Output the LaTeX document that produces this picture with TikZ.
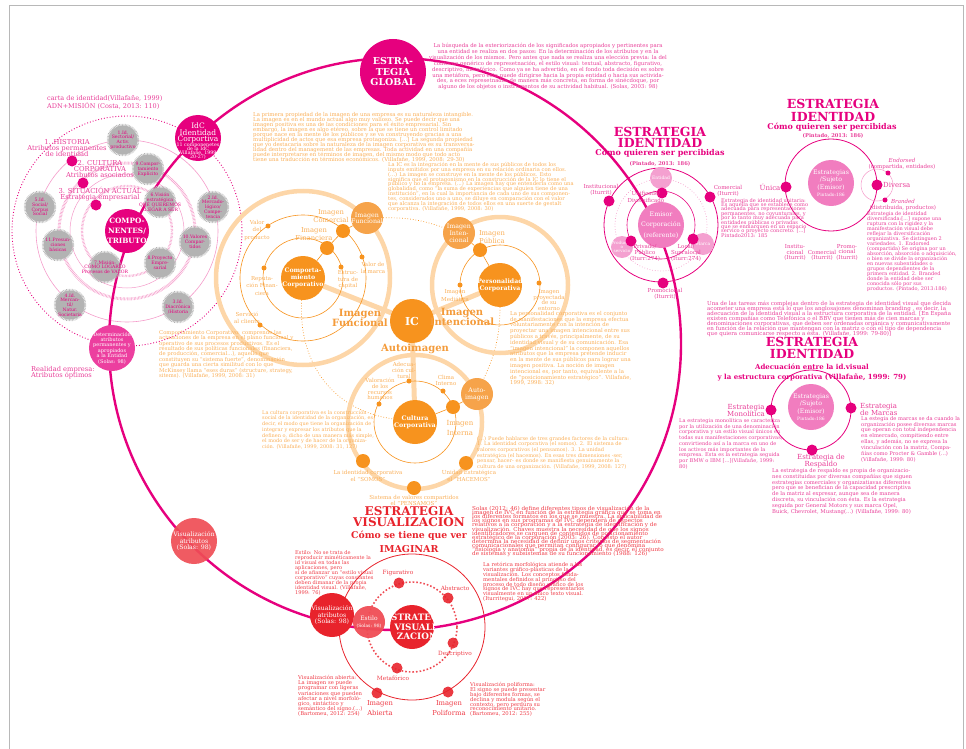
\documentclass[tikz,border=0pt]{standalone}
\usepackage{fontspec}
\setmainfont{DejaVu Serif}
\pgfdeclarelayer{bg}
\pgfsetlayers{bg,main}
\definecolor{Mag}{HTML}{E6007E}
\definecolor{MagT}{HTML}{E83E98}
\definecolor{MagM}{HTML}{EC3F9F}
\definecolor{PinkL}{HTML}{F17DBF}
\definecolor{PinkXL}{HTML}{F4A0D0}
\definecolor{PinkLine}{HTML}{F49AC9}
\definecolor{Org}{HTML}{F7931E}
\definecolor{OrgM}{HTML}{F6A34A}
\definecolor{OrgL}{HTML}{FDD6A8}
\definecolor{OrgT}{HTML}{F9AE57}
\definecolor{OrgB}{HTML}{F49B3A}
\definecolor{Red}{HTML}{E8232C}
\definecolor{RedL}{HTML}{EF4D55}
\definecolor{RedT}{HTML}{EE3B46}
\definecolor{Sun}{HTML}{B3B3B3}
\definecolor{Frame}{HTML}{B8B8B8}
\newcommand\myfs[2]{\fontsize{#1}{#2}\selectfont\lineskiplimit=-20pt\relax}
\newcommand\Blk[9]{\begin{scope}[shift={(#1,#2)},xscale=#3]\node[transform shape,anchor=north west,inner sep=0pt,align=#8,text=#6,font={\myfs{#4}{#5}}] (#7) at (0,0) {#9};\end{scope}}
\newcommand\Disc[6]{\node[circle,inner sep=0pt,minimum size=#4pt,#1] (#2) at (#3) {};\node[ctxt,#5] (#2-t) at (#2.center) {#6};}
\newcommand\Sun[3]{\node[sun] (#1) at (#2) {};\node[ctxt,text=Mag,font={\myfs{4.6}{4.8}}] (#1-t) at (#1.center) {#3};}
\tikzset{
  ctxt/.style={inner sep=0pt, align=center},
  mdot/.style={circle, fill=Mag, inner sep=0pt, minimum size=11pt},
  sdot/.style={circle, fill=Mag, inner sep=0pt, minimum size=5pt},
  rdot/.style={circle, fill=Red, opacity=0.9, inner sep=0pt, minimum size=11pt},
  sun/.style={circle, fill=Sun, draw=Sun, line width=3.5pt, dash pattern=on 0.55pt off 0.8pt, minimum size=29pt, inner sep=0pt},
  ladder/.style={PinkLine, line width=3pt, dash pattern=on 0.5pt off 0.9pt},
  orng/.style={OrgL, line width=4.5pt},
  othin/.style={Org, line width=0.6pt},
  odotted/.style={Org, line width=0.7pt, dotted},
  odot/.style={circle, fill=Org, inner sep=0pt, minimum size=5pt},
  osm/.style={circle, fill=Org, inner sep=0pt, minimum size=14pt},
  olbl/.style={ctxt, text=OrgT, font={\myfs{5.5}{7.5}}},
  ohead/.style={ctxt, text=OrgB, font={\bfseries\myfs{10}{9.5}}},
  mlbl/.style={ctxt, text=MagT, font={\myfs{5.5}{5.5}}},
  rlbl/.style={ctxt, text=RedT, font={\myfs{5.8}{6}}},
  mhead/.style={ctxt, text=Mag, font={\bfseries\myfs{12.5}{11}}},
}
\begin{document}
\begin{tikzpicture}[x=1pt,y=-1pt]
\useasboundingbox (0,0) rectangle (966,749);
\draw[Frame, line width=1pt] (9,749) -- (9,6) -- (963,6) -- (963,749);

% ---------------- left cluster rings
\draw[Mag, line width=0.9pt, dotted] (127,231) circle[radius=115pt];
\draw[PinkLine, line width=0.6pt] (127,231) circle[radius=91pt];
\draw[ladder] (127,231) circle[radius=68pt];
\draw[PinkLine, line width=0.5pt] (127,231) circle[radius=57pt];
\draw[ladder, line width=2.4pt] (127,231) circle[radius=45pt];

% ---------------- orange rings
\draw[orng] (303,278) circle[radius=87pt];
\draw[orng] (500,285) circle[radius=68pt];
\draw[orng] (415,422) circle[radius=67pt];
\draw[othin] (303,278) circle[radius=63pt];
\draw[othin] (303,278) circle[radius=40pt];
\draw[othin] (500,285) circle[radius=40pt];
\draw[othin] (415,422) circle[radius=41pt];

% ---------------- pink identity rings
\draw[Mag, line width=0.8pt] (661,225) circle[radius=57pt];
\draw[PinkLine, line width=0.7pt, dotted] (661,225) circle[radius=46pt];
\draw[Mag, line width=0.6pt] (661,225) circle[radius=34pt];
\draw[Mag, line width=0.8pt] (831,185) circle[radius=46pt];
\draw[PinkLine, line width=0.5pt] (877,185) circle[radius=16pt];
\draw[Mag, line width=0.8pt] (811,410) circle[radius=40pt];

% ---------------- red rings
\draw[Red, line width=0.8pt] (412,627) circle[radius=73pt];
\draw[RedL, line width=1.6pt, dotted] (412,627) circle[radius=45pt];

% ---------------- big ring
\draw[Mag, line width=2.4pt] (395,344) circle[radius=286pt];

% ---------------- left cluster nodes
\Sun{s1}{123,140}{1.Id.\\Sectorial/\\Activ.\\productivo}
\Sun{s9}{148,169}{9.Compor-\\tamiento\\Explícito}
\Sun{s6}{160,202}{6.Visión\\estratégica\\QUÉ QUEREMOS\\LLEGAR A SER}
\Sun{s2}{213,207}{2.Id.\\Mercado-\\lógico/\\Compe-\\tencia}
\Sun{s5}{40,207}{5.Id.\\Social/\\Corpus\\Social}
\Sun{s11}{58,245}{11.Presun-\\ciones\\básicas}
\Sun{s10}{195,242}{10.Valores\\Compar-\\tidos}
\Sun{s8}{160,263}{8.Proyecto\\Empre-\\sarial}
\Sun{s7}{105,267}{7.Misión:\\CÓMO LOGARLO\\Procesos de VALOR}
\Sun{s4}{70,305}{4.Id.\\Mercan-\\til/\\Natur.\\Societaria}
\Sun{s3}{178,307}{3.Id.\\Diacrónica\\/Historia}

\node[mdot] (d1) at (72,161) {};
\node[mdot] (d2) at (83,183) {};
\node[mdot] (d3) at (96,205) {};
\node[ctxt, text=MagT, font={\myfs{6.8}{5.8}}] (l1) at (67,148) {1. HISTORIA\\Atributos permanentes\\de identidad};
\node[ctxt, text=MagT, font={\myfs{6.8}{5.8}}] (l2) at (100,169) {2. CULTURA\\CORPORATIVA\\Atributos asociados};
\node[ctxt, text=MagT, font={\myfs{6.8}{6.5}}] (l3) at (100,194) {3. SITUACIÓN ACTUAL\\Estrategia empresarial};
\node[anchor=north west, inner sep=0pt, align=left, text=MagT, font={\myfs{6.5}{8}}] (carta) at (47,95) {carta de identidad(Villafañe, 1999)\\ADN+MISIÓN (Costa, 2013: 110)};
\node[anchor=north west, inner sep=0pt, align=left, text=MagT, font={\myfs{6.7}{6}}] (realidad) at (31,366) {Realidad empresa:\\Atributos óptimos};

\Disc{fill=Mag}{comp}{127,231}{44}{text=white,font={\bfseries\myfs{7.3}{10}}}{COMPO-\\NENTES/\\ATRIBUTOS}
\node[circle, fill=Mag, inner sep=0pt, minimum size=46pt] (idc) at (198,138) {};
\node[ctxt, text=white, font={\myfs{7.5}{6.5}}] (idct) at (198,133) {IdC\\Identidad\\Corportiva};
\node[ctxt, text=white, font={\myfs{4.8}{4.2}}] (idcs) at (198,151) {11 componenetes\\de la IdC\\(Villafañe, 1999:\\20-27)};
\Disc{fill=MagM}{determ}{112,348}{46}{text=white,font={\myfs{5}{5.4}}}{Determinación\\atributos\\permanentes y\\apropiados\\a la Entidad\\(Solas: 98)}
\Disc{fill=Mag}{eglobal}{393,72}{66}{text=white,font={\bfseries\myfs{9.5}{10.5}}}{ESTRA-\\TEGIA\\GLOBAL}

% ---------------- orange nodes
\Disc{fill=Org}{ic}{412,321}{44}{text=white,font={\bfseries\myfs{11}{11}}}{IC}
\Disc{fill=Org}{compc}{303,278}{44}{text=white,font={\bfseries\myfs{6.2}{7}}}{Comporta-\\miento\\Corporativo}
\Disc{fill=Org}{pers}{500,285}{44}{text=white,font={\bfseries\myfs{6.2}{6.7}}}{Personalidad\\Corporativa}
\Disc{fill=Org}{cult}{415,422}{44}{text=white,font={\bfseries\myfs{6.3}{7}}}{Cultura\\Corporativa}
\Disc{fill=OrgM}{ifun}{367,218}{32}{text=white,font={\myfs{6.3}{6.5}}}{Imagen\\Funcional}
\Disc{fill=OrgM}{iint}{459,233}{32}{text=white,font={\myfs{6.3}{7}}}{Imagen\\Inten-\\cional}
\Disc{fill=OrgM}{auto}{477,394}{32}{text=white,font={\myfs{6.3}{7}}}{Auto-\\imagen}
\node[osm] (icom) at (343,231) {};
\node[osm] (ifin) at (327,248) {};
\node[osm] (ipub) at (480,250) {};
\node[osm] (iinterna) at (453,407) {};
\node[osm] (somos) at (363,461) {};
\node[osm] (pensamos) at (414,488) {};
\node[osm] (hacemos) at (466,463) {};
\node[odot] (vprod) at (268,226) {};
\node[odot] (vmarca) at (362,257) {};
\node[odot] (serv) at (260,325) {};
\node[odot] (repu) at (264,268) {};
\node[odot] (estr) at (341,267) {};
\node[odot] (imed) at (460,285) {};
\node[odot] (iproy) at (539,283) {};
\node[odot] (adec) at (409,381) {};
\node[odot] (clima) at (443,391) {};
\node[odot] (valo) at (379,404) {};

\begin{pgfonlayer}{bg}
\draw[OrgL, line width=5pt] (ic) -- (compc);
\draw[OrgL, line width=5pt] (ic) -- (pers);
\draw[OrgL, line width=5pt] (ic) -- (cult);
\draw[othin] (compc) -- (ifin) -- (icom) -- (ifun);
\draw[othin] (pers) -- (ipub) -- (iint);
\draw[othin] (cult) -- (iinterna) -- (auto);
\draw[odotted] (ifun) to[bend left=10] (iint);
\draw[odotted] (pers) to[bend left=12] (auto);
\draw[odotted] (compc) .. controls (298,360) and (330,410) .. (cult);
\end{pgfonlayer}

\node[olbl] (lvprod) at (257,230) {Valor\\del\\producto};
\node[olbl] (lvmarca) at (373,268) {Valor de\\la marca};
\node[olbl, font={\myfs{5.5}{6.5}}] (lestr) at (348,280) {Estruc-\\tura de\\capital};
\node[olbl] (lrepu) at (262,286) {Reputa-\\ción Finan-\\ciera};
\node[olbl] (lserv) at (247,318) {Servició\\al cliente};
\node[ctxt, text=OrgT, font={\myfs{6.8}{8.5}}] (licom) at (331,216) {Imagen\\Comercial};
\node[ctxt, text=OrgT, font={\myfs{6.8}{7.5}}] (lifin) at (314,234) {Imagen\\Financiera};
\node[ohead] (lfun) at (360,318) {Imagen\\Funcional};
\node[ohead] (lint) at (462,317) {Imagen\\Intencional};
\node[ohead] (lauto) at (415,349) {Autoimagen};
\node[ctxt, text=OrgT, font={\myfs{6.8}{8}}] (lipub) at (492,237) {Imagen\\Pública};
\node[olbl, font={\myfs{5.5}{8}}] (limed) at (455,296) {Imagen\\Mediática};
\node[olbl, font={\myfs{5.5}{5.8}}] (liproy) at (549,300) {Imagen\\proyectada\\de su\\entorno};
\node[olbl, font={\myfs{5.5}{6}}] (ladec) at (404,370) {Adecua-\\ción cul-\\tural};
\node[olbl, font={\myfs{5.5}{6}}] (lclima) at (446,380) {Clima\\Interno};
\node[olbl, font={\myfs{5.5}{5.8}}] (lvalo) at (380,389) {Valoración\\de los\\recursos\\humanos};
\node[ctxt, text=OrgT, font={\myfs{7}{9.5}}] (liint) at (460,428) {Imagen\\Interna};
\node[olbl, font={\myfs{5.5}{7}}] (lsomos) at (368,476) {La identidad corporativa\\el “SOMOS”};
\node[olbl, font={\myfs{5.5}{6.5}}] (lhacemos) at (469,476) {Unidad Estratégica\\el “HACEMOS”};
\node[olbl, font={\myfs{5.5}{6}}] (lpensamos) at (414,500) {Sistema de valores compartidos\\el “PENSAMOS”};

% ---------------- pink identity 1
\Disc{fill=PinkL}{emisor}{661,225}{46}{text=white,font={\myfs{6.3}{10.5}}}{Emisor\\Corporación\\(referente)}
\Disc{fill=PinkXL}{entidad}{661,178}{22}{text=white,font={\myfs{4.5}{5}}}{Entidad}
\Disc{fill=PinkXL}{prodserv}{622,247}{22}{text=white,font={\myfs{4.2}{4.4}}}{Productos\\o\\servicio}
\Disc{fill=PinkXL}{marca}{703,244}{22}{text=white,font={\myfs{4.5}{5}}}{Marca}
\node[mdot] (dinst) at (609,201) {};
\node[mdot] (dcom) at (710,197) {};
\node[mdot] (dunif) at (662,193) {};
\node[mdot] (dpriv) at (631,241) {};
\node[mdot] (dlocal) at (693,239) {};
\node[mdot] (dpromo) at (663,283) {};
\node[mlbl] (linst) at (601,190) {Institucional\\(Iturrit)};
\node[mlbl] (lcom) at (728,191) {Comercial\\(Iturrit)};
\node[mlbl, font={\myfs{5.5}{6.5}}] (lunif) at (646,197) {Unificado/\\Diversificado};
\node[mlbl, font={\myfs{5.5}{6}}] (lpriv) at (645,253) {Privado/\\Público\\(Iturr:274)};
\node[mlbl, font={\myfs{5.5}{6}}] (llocal) at (686,253) {Local/\\Supralocal\\(Iturr:274)};
\node[mlbl] (lpromo) at (665,294) {Promocional\\(Iturrit)};
\node[mhead] (h1) at (660,137.5) {ESTRATEGIA\\IDENTIDAD};
\node[ctxt, text=Mag, font={\bfseries\myfs{8}{8}}] (h1b) at (660,153) {Cómo quieren ser percibidas};
\node[ctxt, text=MagT, font={\bfseries\myfs{5.2}{5}}] (h1c) at (660,164) {(Pintado, 2013: 186)};
\node[mlbl, font={\myfs{5.5}{5.5}}] (linst2) at (795,252.5) {Institu-\\cional\\(Iturrit)};
\node[mlbl, font={\myfs{5.5}{5.5}}] (lcom2) at (822,255.5) {Comercial\\(Iturrit)};
\node[mlbl, font={\myfs{5.5}{5.5}}] (lpromo2) at (847,252) {Promo-\\cional\\(Iturrit)};

% ---------------- pink identity 2
\Disc{fill=PinkL}{est2}{831,183}{46}{text=white,font={\myfs{6.2}{7.5}}}{Estrategias\\/Sujeto\\(Emisor)\\{\myfs{4.5}{7.5}Pintado:186}}
\node[mdot] (duni) at (786,187) {};
\node[mdot] (ddiv) at (877,185) {};
\node[sdot] (dend) at (888,173) {};
\node[sdot] (dbra) at (885,200) {};
\node[ctxt, text=MagT, font={\myfs{7}{7}}] (luni) at (770,187) {Única};
\node[anchor=west, inner sep=0pt, text=MagT, font={\myfs{7}{7}}] (ldiv) at (883,185) {Diversa};
\node[mlbl, font={\myfs{5.5}{6}}] (lend) at (902,164) {\textit{Endorsed}\\(compartida, entidades)};
\node[mlbl, font={\myfs{5.5}{6}}] (lbra) at (903,205) {\textit{Branded}\\(distribuida, productos)};
\node[ctxt, text=Mag, font={\bfseries\myfs{12.5}{12.5}}] (h2) at (833,110.5) {ESTRATEGIA\\IDENTIDAD};
\node[ctxt, text=Mag, font={\bfseries\myfs{8}{8}}] (h2b) at (832,127) {Cómo quieren ser percibidas};
\node[ctxt, text=MagT, font={\bfseries\myfs{5.2}{5}}] (h2c) at (833,136) {(Pintado, 2013: 186)};

% ---------------- pink identity 3
\Disc{fill=PinkL}{est3}{811,407}{46}{text=white,font={\myfs{6.2}{7.5}}}{Estrategias\\/Sujeto\\(Emisor)\\{\myfs{4.5}{7.5}Pintado:186}}
\node[mdot] (dmono) at (771,410) {};
\node[mdot] (dmarcas) at (851,408) {};
\node[mdot] (dresp) at (812,450) {};
\node[ctxt, text=MagT, font={\myfs{7}{7}}] (lmono) at (746,410) {Estrategia\\Monolítica};
\node[anchor=west, inner sep=0pt, align=left, text=MagT, font={\myfs{7}{7}}] (lmarcas) at (860,409) {Estrategia\\de Marcas};
\node[ctxt, text=MagT, font={\myfs{7}{7}}] (lresp) at (821,461) {Estrategia de\\Respaldo};
\node[ctxt, text=Mag, font={\bfseries\myfs{12.5}{12}}] (h3) at (812,348) {ESTRATEGIA\\IDENTIDAD};
\node[ctxt, text=Mag, font={\bfseries\myfs{7}{10}}] (h3b) at (812,372) {Adecuación entre la id.visual\\y la estructura corporativa (Villafañe, 1999: 79)};

% ---------------- red nodes
\node[rdot] (dfig) at (399,583) {};
\node[rdot] (dabs) at (448,598) {};
\node[rdot] (ddes) at (453,643) {};
\node[rdot] (dmet) at (397,668) {};
\node[rdot] (dia) at (377,693) {};
\node[rdot] (dip) at (448,692) {};
\Disc{fill=RedL,opacity=0.92}{visatr}{194,541}{46}{text=white,font={\myfs{6.2}{6.7}}}{Visualización\\atributos\\(Solas: 98)}
\Disc{fill=Red}{visred}{332,615}{44}{text=white,font={\myfs{6.2}{6.7}}}{Visualización\\atributos\\(Solas: 98)}
\Disc{fill=RedL,opacity=0.95}{estilo}{369,622}{32}{text=white,font={\myfs{6}{7}}}{Estilo\\{\myfs{4.5}{7}(Solas: 98)}}
\node[circle, fill=Red, inner sep=0pt, minimum size=44pt,
  path picture={\node[ctxt, text=white, font={\bfseries\myfs{8.8}{9.5}}] (evt) at ([xshift=5pt]path picture bounding box.center) {ESTRATEGIA\\VISUALI-\\ZACION};}] (ev) at (412,627) {};
\node[rlbl] (lfig) at (398,573) {Figurativo};
\node[rlbl] (labs) at (455,588) {Abstracto};
\node[rlbl] (ldes) at (455,654) {Descriptivo};
\node[rlbl] (lmet) at (393,678) {Metafórico};
\node[rlbl, font={\myfs{6.8}{10}}] (lia) at (380,708) {Imagen\\Abierta};
\node[rlbl, font={\myfs{6.8}{10}}] (lip) at (449,708) {Imagen\\Poliforma};
\node[ctxt, text=Red, font={\bfseries\myfs{12}{11}}] (hv1) at (409,517) {ESTRATEGIA\\VISUALIZACION};
\node[ctxt, text=Red, font={\bfseries\myfs{9.3}{9.3}}] (hv2) at (409,535.5) {Cómo se tiene que ver};
\node[ctxt, text=Red, font={\bfseries\myfs{9.5}{9.5}}] (hv3) at (409,549) {IMAGINAR};

% ---------------- text blocks
\Blk{429}{43}{1}{5.4}{5.9}{MagT}{bglobal}{center}{La búsqueda de la exteriorización de los significados apropiados y pertinentes para\\una entidad se realiza en dos pasos: En la determinación de los atributos y en la\\visualización de los mismos. Pero antes que nada se realiza una elección previa: la del\\contorno genérico de represetnación, el estilo visual: textual, abstracto, figurativo,\\descriptivo, metafórico. Como ya se ha advertido, en el fondo toda decisión es sobre\\una metáfora, pero ésta puede dirigirse hacia la propia entidad o hacia sus activida-\\des, a eces represetnadas de manera más concreta, en forma de sinécdoque, por\\alguno de los objetos o instrumentos de su actividad habitual. (Solas, 2003: 98)}

\Blk{253}{112}{1}{5.4}{5}{OrgT}{bA}{left}{La primera propiedad de la imagen de una empresa es su naturaleza intangible.\\La imagen es en el mundo actual algo muy valioso. Se puede decir que una\\imagen positiva es una de las condiciones para el éxito empresarial. Sin\\embargo, la imagen es algo etéreo, sobre la que se tiene un control limitado\\porque nace en la mente de los públicos y se va construyendo gracias a una\\multiplicidad de actos que esa empresa protagoniza. [...] La segunda propiedad\\que yo destacaría sobre la naturaleza de la imagen corporativa es su transversa-\\lidad dentro del management de las empresas. Toda actividad en una compañía\\puede interpretarse en términos de imagen, del mismo modo que todo acto\\tiene una traducción en términos económicos. (Villafañe, 1999, 2008: 29-30)}

\Blk{388}{162}{1}{5.2}{4.9}{OrgT}{bB}{left}{La IC es la integración en la mente de sus públicos de todos los\\inputs emitidos por una empresa en su relación ordinaria con ellos.\\(...) La imagen se construye en la mente de los públicos. Esto\\significa que el protagonismo en la construcción de la IC lo tiene el\\público y no la empresa. (...) La imagen hay que entenderla como una\\globalidad, como “la suma de experiencias que alguien tiene de una\\institución”, en la cual la importancia de cada uno de sus componen-\\tes, considerados uno a uno, se diluye en comparación con el valor\\que alcanza la integración de todos ellos en una suerte de gestalt\\corporativa. (Villafañe, 1999, 2008: 30)}

\Blk{159}{330}{1}{5.3}{5.4}{OrgT}{bC}{left}{Comportamiento Corporativo: comprende las\\actuaciones de la empresa en el plano funcional y\\operativo de sus procesos productivos. Es el\\resultado de sus políticas funcionales (financiera,\\de producción, comercial...), aquello que\\constituyen su “sistema fuerte”, denominación\\que guarda una cierta similitud con lo que\\McKinsey llama “eses duras” (structure, strategy,\\sitems). (Villafañe, 1999, 2008: 31)}

\Blk{262}{410}{1}{5}{5.7}{OrgT}{bD}{left}{La cultura corporativa es la construcción\\social de la identidad de la organización, es\\decir, el modo que tiene la organización de\\integrar y expresar los atributos que la\\definen o, dicho de una manera más simple,\\el modo de ser y de hacer de la organiza-\\ción. (Villafañe, 1999, 2008: 31, 127)}

\Blk{510}{311}{1}{5.4}{5.8}{OrgT}{bE}{left}{La personalidad corporativa es el conjunto\\de manifestaciones que la empresa efectua\\voluntariamente con la intención de\\proyectar una imagen intencional entre sus\\públicos a través, principalmente, de su\\identidad visual y de su comunicación. Esa\\“imagen intencional” la componen aquellos\\atributos que la empresa pretende inducir\\en la mente de sus públicos para lograr una\\imagen positiva. La noción de imagen\\intencional es, por tanto, equivalente a la\\de “posicionamiento estratégico”. Villafañe,\\1999, 2998: 32)}

\Blk{477}{436}{1}{5.1}{5.7}{OrgT}{bF}{left}{(...) Puede hablarse de tres grandes factores de la cultura:\\1. La identidad corporativa (el somos). 2. El sistema de\\valores corporativos (el pensamos). 3. La unidad\\estratégica (el hacemos). En esas tres dimensiones -ser,\\pensar, hacer- es donde se manifiesta genuinamente la\\cultura de una organización. (Villafañe, 1999, 2008: 127)}

\Blk{721}{198}{1}{5.1}{4.4}{MagT}{bunit}{left}{Estrategia de identidad unitaria:\\Es aquella que se establece como\\adecuada para representaciones\\permanentes, no coyunturales, y\\por lo tanto muy adecuada para\\entidades públicas o privadas\\que se enmarquen en un espacio\\servico o proyecto concreto. [...]\\Pintado2013: 185}

\Blk{867}{211}{1}{5}{5}{MagT}{bdiver}{left}{Estrategia de identidad\\diversificada:[...] supone una\\ruptura con la rigidez y la\\manifestación visual debe\\reflejar la diversificación\\organizativa. Se distinguen 2\\variedades. 1. Endorsed\\(compartida) Se origina por un\\absorción, absorción o adquisición,\\o bien se divide la organización\\en nuevas subentidades o\\grupos dependientes de la\\primera entidad. 2. Branded\\donde la entidad debe ser\\conocida sólo por sus\\productos. (Pintado, 2013:186)}

\Blk{707}{301}{1}{5.5}{5}{MagT}{bbrand}{left}{Una de las tareas más complejas dentro de la estrategia de identidad visual que decida\\acometer una empresa está lo que los anglosajones denominan branding , es decir, la\\adecuación de la identidad visual a la estructura corporativa de la entidad. [En España\\existen compañías como Telefónica o el BBV que tienen más de cien marcas y\\denominaciones corporativas, que deben ser ordenadas orgánica y comunicativamente\\en función de la relación que mantengan con la matriz o con el tipo de dependencia\\que quiera comunicarse respecto a ésta. (Villafañe, 1999: 79-80)]}

\Blk{679}{418}{1}{5.1}{5.75}{MagT}{bmono}{left}{La estrategia monolítica se caracteriza\\por la utilización de una denominación\\corporativa y un estilo visual únicos en\\todas sus manifestaciones corporativas,\\convirtiendo así a la marca en uno de\\los activos más importantes de la\\empresa. Esta es la estrategia seguida\\por BMW o IBM [...](Villafañe, 1999:\\80)}

\Blk{861}{416}{1}{5.2}{5.9}{MagT}{bmarcas}{left}{La estegia de marcas se da cuando la\\organización posee diversas marcas\\que operan con total independencia\\en elmercado, compitiendo entre\\ellas, y además, no se expresa la\\vinculación con la matriz, Compa-\\ñías como Procter \& Gamble (...)\\(Villafañe, 1999: 80)}

\Blk{772}{468}{1}{5.3}{5.9}{MagT}{bresp}{left}{La estrategia de respaldo es propia de organizacio-\\nes constituidas por diversas compañías que siguen\\estrategias comerciales y organizatiavas diferentes\\pero que se benefician de lá  capacidad prescriptiva\\de la matriz al expresar, aunque sea de manera\\discreta, su vinculación con ésta. Es la estrategia\\seguida por General Motors y sus marca Opel,\\Buick, Chevrolet, Mustang(...) (Villafañe, 1999: 80)}

\Blk{295}{550}{1}{5.1}{5.1}{RedT}{bestilo}{left}{Estilo: No se trata de\\reproducir miméticamente la\\id visual en todas las\\aplicaciones, pero\\sí de afianzar un “estilo visual\\corporativo” cuyas constantes\\deben dimanar de la propia\\identidad visual. (Villafañe,\\1999: 76)}

\Blk{298}{675}{1}{5.3}{5.2}{RedT}{babierta}{left}{Visualización abierta:\\La imagen se puede\\programar con ligeras\\variaciones que pueden\\afectar a nivel morfoló-\\gico, sintáctico y\\semántico del signo.(...)\\(Bartomeu, 2012: 254)}

\Blk{470}{682}{1}{5.3}{4.9}{RedT}{bpoli}{left}{Visualización poliforma:\\El signo se puede presentar\\bajo diferentes formas, se\\declina y modula según el\\contexto, pero perdura su\\reconocimiento unitario.\\(Bartomeu, 2012: 255)}

\Blk{472}{506}{1.05}{5.4}{4.1}{RedT}{bsolas}{left}{Solas (2012: 46) define diferentes tipos de visualización de la\\imagen de IVC en función de la estrategia gráfica que se toma en\\los diferentes formatos en los que se muestra. La aplicabilidad de\\los signos en sus programas de IVC dependerá de aspectos\\relativos a la corporación y a la estrategia de identificación y de\\visualización. Chaves muestra la necesidad de que los signos\\identificadores se carguen de contenidos de posicionamiento\\estratégico de la corporación (2003: 26). Con esto el autor\\determina la necesidad de definir unos criterios de segmentación\\comunicacionales que permitan configurar lo que denomina\\“fisiología y anatomía” propia de la identidad, es decir, el conjunto\\de sistemas y subsistemas de su funcionamiento (1988: 126)}

\Blk{483}{562}{1}{5.3}{4.9}{RedT}{bretor}{left}{La retórica morfológica atiende a las\\variantes gráfico-plásticas de la\\visualización. Los conceptos funda-\\mentales definidos al principio del\\proceso de todo diseño gráfico de los\\signos de IVC hay que representarlos\\visualmente en un único texto visual.\\(Iturritegui, 2007: 422)}
\end{tikzpicture}
\end{document}
